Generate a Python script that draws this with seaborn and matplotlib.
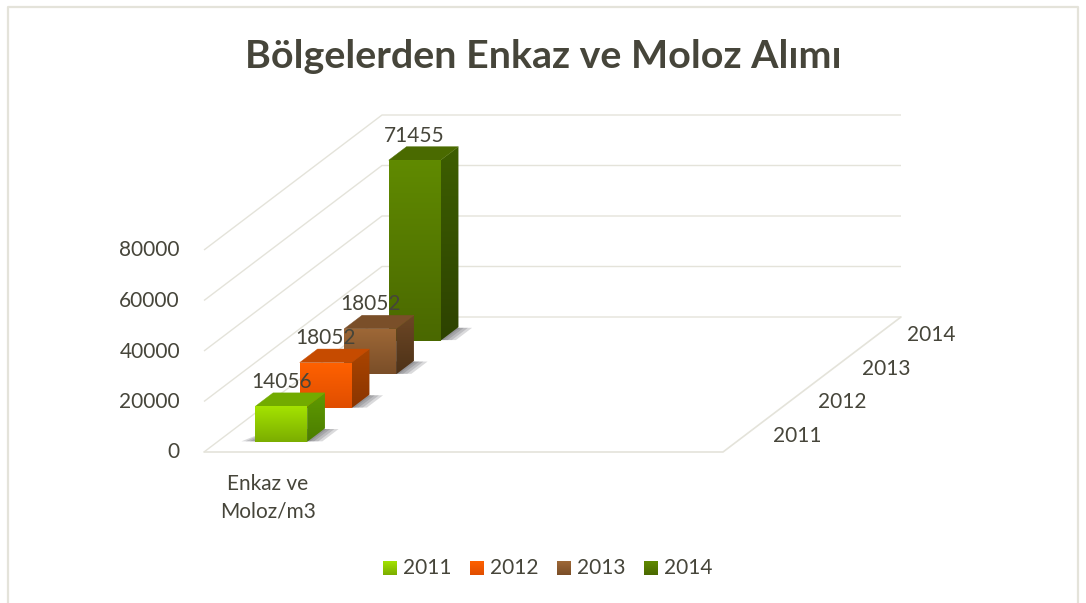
"""
Pseudo-3D column chart: debris and rubble collected from the regions.
"""

import matplotlib
matplotlib.use('Agg')
import matplotlib.pyplot as plt
from matplotlib.patches import Polygon
import numpy as np
import seaborn as sns

title = 'Bölgelerden Enkaz ve Moloz Alımı'
category = 'Enkaz ve\nMoloz/m3'
years = ['2011', '2012', '2013', '2014']
values = [14056, 18052, 18052, 71455]
value_labels = ['14056', '18052', '18052', '71455']
y_ticks = [0, 20000, 40000, 60000, 80000]

front_colors = [('#a4e300', '#7bad00'), ('#ff6100', '#e04e00'),
                ('#9e6837', '#7a4e28'), ('#608a00', '#4a6800')]
side_colors = [('#5f9a00', '#4b7d00'), ('#ab4500', '#8a3500'),
               ('#6d4725', '#4e3218'), ('#3d5e00', '#2d4200')]
top_colors = ['#72ab00', '#c64b00', '#7a4f29', '#4a6a00']

TEXT = '#46453a'
GRID = '#e4e3da'

# floor geometry in figure pixels
ORIGIN_X, ORIGIN_Y = 204, 452
FLOOR_W = 519
DEPTH_X, DEPTH_Y = 178, 135
WALL_H = 202
Y_MAX = 80000
BAR_X, BAR_W, BAR_D = 0.073, 0.1, 0.1

gradient = np.linspace(0, 1, 128).reshape(-1, 1)


def project(x, d, v=0):
    """Map (category position, depth, value) to figure pixels."""
    return (ORIGIN_X + x * FLOOR_W + d * DEPTH_X,
            ORIGIN_Y - d * DEPTH_Y - v / Y_MAX * WALL_H)


def gradient_poly(ax, pts, colors, zorder):
    """Fill a polygon with a vertical gradient."""
    xs, ys = zip(*pts)
    cmap = sns.blend_palette(colors, as_cmap=True)
    im = ax.imshow(gradient, cmap=cmap, aspect='auto', interpolation='bilinear',
                   extent=(min(xs), max(xs), max(ys), min(ys)), zorder=zorder)
    patch = Polygon(pts, closed=True, transform=ax.transData, fc='none', ec='none')
    ax.add_patch(patch)
    im.set_clip_path(patch)


def draw_bar(ax, i, value, zorder):
    d0 = i / 4 + 0.075
    d1 = d0 + BAR_D
    x0, x1 = BAR_X, BAR_X + BAR_W

    # soft shadow on the floor
    for grow in [0.028, 0.02, 0.012, 0.005]:
        ax.add_patch(Polygon([project(x0 - grow, d0 + 0.004), project(x1 + grow, d0 + 0.004),
                              project(x1 + grow, d1 - 0.005), project(x0, d1 - 0.005)],
                             closed=True, fc='#4a4a50', ec='none', alpha=0.2, zorder=zorder))

    gradient_poly(ax, [project(x1, d0), project(x1, d1), project(x1, d1, value), project(x1, d0, value)],
                  side_colors[i], zorder + 0.1)
    ax.add_patch(Polygon([project(x0, d0, value), project(x1, d0, value),
                          project(x1, d1, value), project(x0, d1, value)],
                         closed=True, fc=top_colors[i], ec=top_colors[i], lw=0.3, zorder=zorder + 0.1))
    gradient_poly(ax, [project(x0, d0), project(x1, d0), project(x1, d0, value), project(x0, d0, value)],
                  front_colors[i], zorder + 0.2)


sns.set_theme(style='white')
plt.rcParams['font.family'] = ['Lato', 'DejaVu Sans']

fig, ax = plt.subplots(figsize=(10.86, 6.03), dpi=100)
fig.subplots_adjust(left=0, right=1, bottom=0, top=1)
ax.set_axis_off()

# outer chart frame
ax.plot([8, 8, 1078, 1078], [603, 6.5, 6.5, 603], color=GRID, lw=1.6, zorder=1)

# walls and floor
for tick in y_ticks:
    xs, ys = zip(project(0, 0, tick), project(0, 1, tick), project(1, 1, tick))
    ax.plot(xs, ys, color=GRID, lw=1.0, zorder=1, solid_capstyle='butt')
    ax.text(180, project(0, 0, tick)[1] + 0.5, str(tick), ha='right', va='center', fontsize=15, color=TEXT)
xs, ys = zip(project(0, 0), project(1, 0), project(1, 1))
ax.plot(xs, ys, color=GRID, lw=1.2, zorder=1)

# columns, back to front
for i in reversed(range(len(years))):
    draw_bar(ax, i, values[i], zorder=2 + (len(years) - i))

# value labels above each column
for i, label in enumerate(value_labels):
    d0 = i / 4 + 0.075
    x, _ = project(BAR_X + BAR_W / 2, d0)
    _, y = project(BAR_X, d0 + BAR_D, values[i])
    ax.text(x, y - 11, label, ha='center', va='center', fontsize=15, color=TEXT, zorder=20)

# depth axis labels
for i, year in enumerate(years):
    x, y = project(1, (i + 0.5) / 4)
    ax.text(x + 28, y + 1, year, ha='left', va='center', fontsize=15, color=TEXT)

ax.text(project(0.125, 0)[0] - 1, 498, category, ha='center', va='center', fontsize=15,
        color=TEXT, linespacing=1.5)

ax.text(543, 56, title, ha='center', va='center', fontsize=28.4, fontweight='bold', color=TEXT)

# legend with gradient swatches
for i, year in enumerate(years):
    sx = 383 + i * 87
    gradient_poly(ax, [(sx, 561), (sx + 14, 561), (sx + 14, 575), (sx, 575)], front_colors[i], 3)
    ax.text(sx + 20, 568.5, year, ha='left', va='center', fontsize=15, color=TEXT)

ax.set_xlim(0, 1086)
ax.set_ylim(603, 0)

plt.savefig('out.png', dpi=100)
plt.close()
